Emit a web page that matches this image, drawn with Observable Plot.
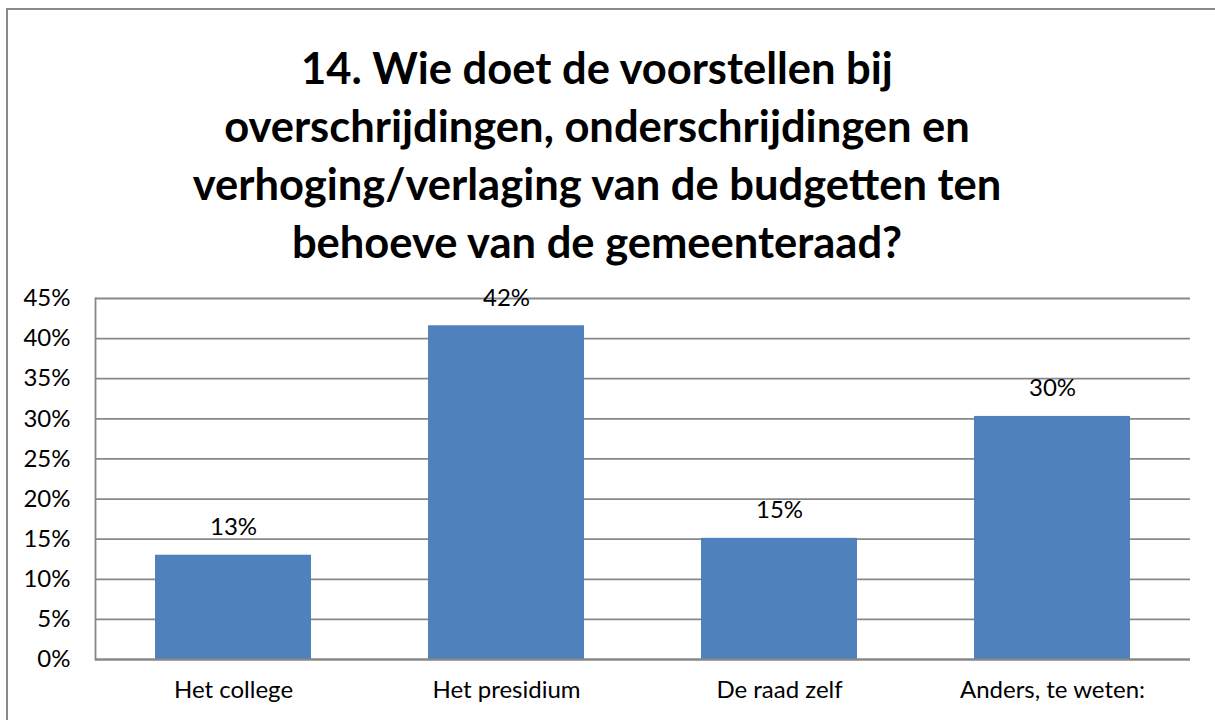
<!DOCTYPE html>
<html><head><meta charset="utf-8">
<script src="https://cdn.jsdelivr.net/npm/d3@7"></script>
<script src="https://cdn.jsdelivr.net/npm/@observablehq/plot@0.6"></script>
<style>
html,body{margin:0;padding:0;background:#fff;overflow:hidden;width:1215px;height:720px;}
body{font-family:Lato,"Open Sans",sans-serif;}
#frame{position:absolute;left:6px;top:8px;width:1209px;height:712px;border-left:2px solid #8a8a8a;border-top:2px solid #8a8a8a;box-sizing:border-box;}
#title{position:absolute;left:0;top:38px;width:1194px;text-align:center;font-weight:bold;font-size:43.5px;line-height:58px;color:#000;}
#chart{position:absolute;left:0;top:280px;}
</style></head><body>
<div id="frame"></div>
<div id="title">14. Wie doet de voorstellen bij<br>overschrijdingen, onderschrijdingen en<br>verhoging/verlaging van de budgetten ten<br>behoeve van de gemeenteraad?</div>
<div id="chart"></div>
<script>
const categories = ["Het college", "Het presidium", "De raad zelf", "Anders, te weten:"];
const values = [13.0, 41.6, 15.1, 30.3];
const valueLabels = ["13%", "42%", "15%", "30%"];
const yTicks = [0, 5, 10, 15, 20, 25, 30, 35, 40, 45];

const data = categories.map((c, i) => ({cat: c, value: values[i], label: valueLabels[i]}));
const grid = "#888888";

const chart = Plot.plot({
  width: 1215,
  height: 440,
  marginTop: 18,
  marginBottom: 61,
  marginLeft: 95,
  marginRight: 25,
  style: {fontFamily: "Lato, 'Open Sans', sans-serif", fontSize: "24px", color: "#000", background: "transparent", overflow: "visible"},
  x: {domain: categories, paddingInner: 0.43, paddingOuter: 0.215, label: null, axis: null},
  y: {domain: [0, 45], label: null, axis: null},
  marks: [
    Plot.gridY(yTicks, {stroke: grid, strokeOpacity: 1, strokeWidth: 1.8}),
    Plot.frame({anchor: "left", stroke: grid, strokeWidth: 1.8}),
    Plot.barY(data, {x: "cat", y: "value", fill: "#4F81BD"}),
    Plot.ruleY([0], {stroke: grid, strokeWidth: 1.8}),
    Plot.text(data, {x: "cat", y: "value", text: "label", dy: -20, lineAnchor: "bottom", fontSize: 24, fill: "#000"}),
    Plot.text(yTicks, {y: d => d, text: d => d + "%", frameAnchor: "left", textAnchor: "end", dx: -25, fontSize: 24, fill: "#000"}),
    Plot.text(categories, {x: d => d, text: d => d, frameAnchor: "bottom", lineAnchor: "bottom", dy: 38, fontSize: 24, fill: "#000"})
  ]
});
document.getElementById("chart").appendChild(chart);
</script>
</body></html>
